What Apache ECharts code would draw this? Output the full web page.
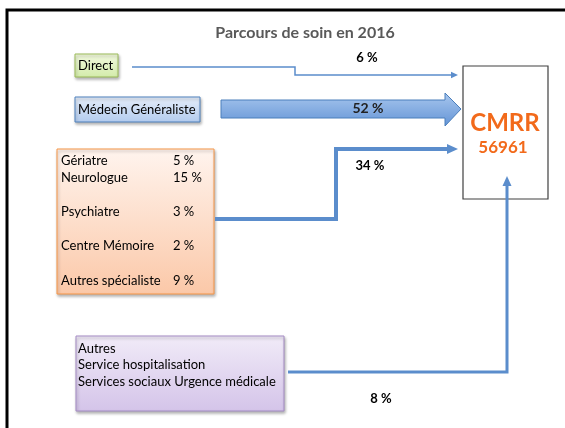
<!DOCTYPE html>
<html>
<head>
<meta charset="utf-8">
<script src="https://cdn.jsdelivr.net/npm/echarts@6/dist/echarts.min.js"></script>
<style>
  html, body { margin: 0; padding: 0; background: #fff; }
  #chart { width: 565px; height: 428px; }
</style>
</head>
<body>
<div id="chart"></div>
<script>
// données
const titre = 'Parcours de soin en 2016';
const centre = 'CMRR';
const totalPatients = 56961;
const flux = ['Direct', 'Médecin Généraliste', 'Spécialistes', 'Autres'];
const parts = [6, 52, 34, 8];
const specialistes = ['Gériatre', 'Neurologue', 'Psychiatre', 'Centre Mémoire', 'Autres spécialiste'];
const partsSpecialistes = [5, 15, 3, 2, 9];
const autresSources = ['Autres', 'Service hospitalisation', 'Services sociaux Urgence médicale'];

const police = 'Lato, "Open Sans", sans-serif';
const bleu = '#5b8dcc';

const chart = echarts.init(document.getElementById('chart'));

function grad(c1, c2) {
  return new echarts.graphic.LinearGradient(0, 0, 0, 1, [
    { offset: 0, color: c1 },
    { offset: 1, color: c2 }
  ]);
}

function boite(x, y, w, h, c1, c2, bord) {
  return {
    type: 'rect',
    shape: { x: x, y: y, width: w, height: h },
    style: {
      fill: grad(c1, c2), stroke: bord, lineWidth: 1,
      shadowBlur: 3, shadowOffsetX: 1, shadowOffsetY: 2, shadowColor: 'rgba(0,0,0,0.3)'
    }
  };
}

function texte(str, x, y, opts) {
  return {
    type: 'text',
    x: x, y: y,
    style: Object.assign({
      text: str, fill: '#000', font: '13px ' + police,
      textAlign: 'left', textVerticalAlign: 'middle'
    }, opts || {})
  };
}

const pct = v => v + ' %';
const gras = 'bold 13px ' + police;

const graphics = [
  // cadre
  { type: 'polyline', shape: { points: [[7, 430], [7, 10], [566, 10]] }, style: { stroke: '#000', lineWidth: 3, fill: null } },
  texte(titre, 305, 33, { font: 'bold 16px ' + police, fill: '#595959', textAlign: 'center' }),

  // Direct
  boite(75, 54, 43, 23, '#f2f9df', '#d3ecaa', '#9bbb59'),
  texte(flux[0], 78, 66),
  texte(pct(parts[0]), 367, 58, { font: gras, textAlign: 'center' }),

  // Médecin généraliste
  boite(75, 97, 125, 25, '#e6eefa', '#b2cbee', '#4f81bd'),
  texte(flux[1], 78, 110),
  {
    type: 'polygon',
    shape: { points: [[221, 100], [445, 100], [445, 93], [461, 109], [445, 126], [445, 118], [221, 118]] },
    style: { fill: grad('#a9c7ee', '#6394d6'), stroke: '#4a7ebb', lineWidth: 1 }
  },
  texte(pct(parts[1]), 368, 108, { font: 'bold 14px ' + police, textAlign: 'center', fill: '#222' }),

  // Spécialistes
  boite(57, 149, 157, 145, '#fff4ee', '#fbc8a8', '#f79646'),
  texte(pct(parts[2]), 370, 166, { font: gras, textAlign: 'center' }),

  // Autres
  boite(76, 336, 208, 75, '#f1ebf8', '#d4c4e9', '#a48bc4'),
  texte(pct(parts[3]), 381, 399, { font: gras, textAlign: 'center' }),

  // CMRR
  { type: 'rect', shape: { x: 463, y: 66, width: 85, height: 133 }, style: { fill: '#fff', stroke: '#404040', lineWidth: 1.2 } },
  texte(centre, 505, 123, { font: 'bold 24px ' + police, fill: '#f26a1b', textAlign: 'center' }),
  texte(String(totalPatients), 503, 148, { font: 'bold 17px ' + police, fill: '#f26a1b', textAlign: 'center' })
];

const lignesSpec = [161, 178, 212, 246, 281];
specialistes.forEach((s, i) => {
  graphics.push(texte(s, 61, lignesSpec[i]));
  graphics.push(texte(pct(partsSpecialistes[i]), 173, lignesSpec[i]));
});
const lignesAutres = [349, 365, 382];
autresSources.forEach((s, i) => graphics.push(texte(s, 78, lignesAutres[i])));

// tracés des flux (dans le repère de la grille)
const traces = [
  { coords: [[132, 67], [295, 67], [295, 75], [458, 75]], width: 1.5, head: 7 },
  { coords: [[215, 219], [336, 219], [336, 149], [458, 149]], width: 4, head: 11 },
  { coords: [[288, 372], [507, 372], [507, 176]], width: 3, head: 10 }
];

function renderFleche(params, api) {
  const t = traces[params.dataIndex];
  const pts = t.coords.map(c => api.coord(c));
  const a = pts[pts.length - 2], b = pts[pts.length - 1];
  const dx = b[0] - a[0], dy = b[1] - a[1];
  const len = Math.sqrt(dx * dx + dy * dy);
  const ux = dx / len, uy = dy / len;
  const h = t.head, w = t.head * 0.45;
  const base = [b[0] - ux * h, b[1] - uy * h];
  const ligne = pts.slice(0, -1).concat([[b[0] - ux * h * 0.6, b[1] - uy * h * 0.6]]);
  return {
    type: 'group',
    children: [
      { type: 'polyline', shape: { points: ligne }, style: { stroke: bleu, lineWidth: t.width, fill: null, lineJoin: 'miter' } },
      { type: 'polygon', shape: { points: [b, [base[0] - uy * w, base[1] + ux * w], [base[0] + uy * w, base[1] - ux * w]] }, style: { fill: bleu } }
    ]
  };
}

chart.setOption({
  animation: false,
  grid: { left: 0, right: 0, top: 0, bottom: 0 },
  xAxis: { type: 'value', min: 0, max: 565, show: false },
  yAxis: { type: 'value', min: 0, max: 428, inverse: true, show: false },
  graphic: graphics,
  series: [{
    type: 'custom',
    coordinateSystem: 'cartesian2d',
    renderItem: renderFleche,
    data: traces.map(t => t.coords[0]),
    z: 3
  }]
});
</script>
</body>
</html>
